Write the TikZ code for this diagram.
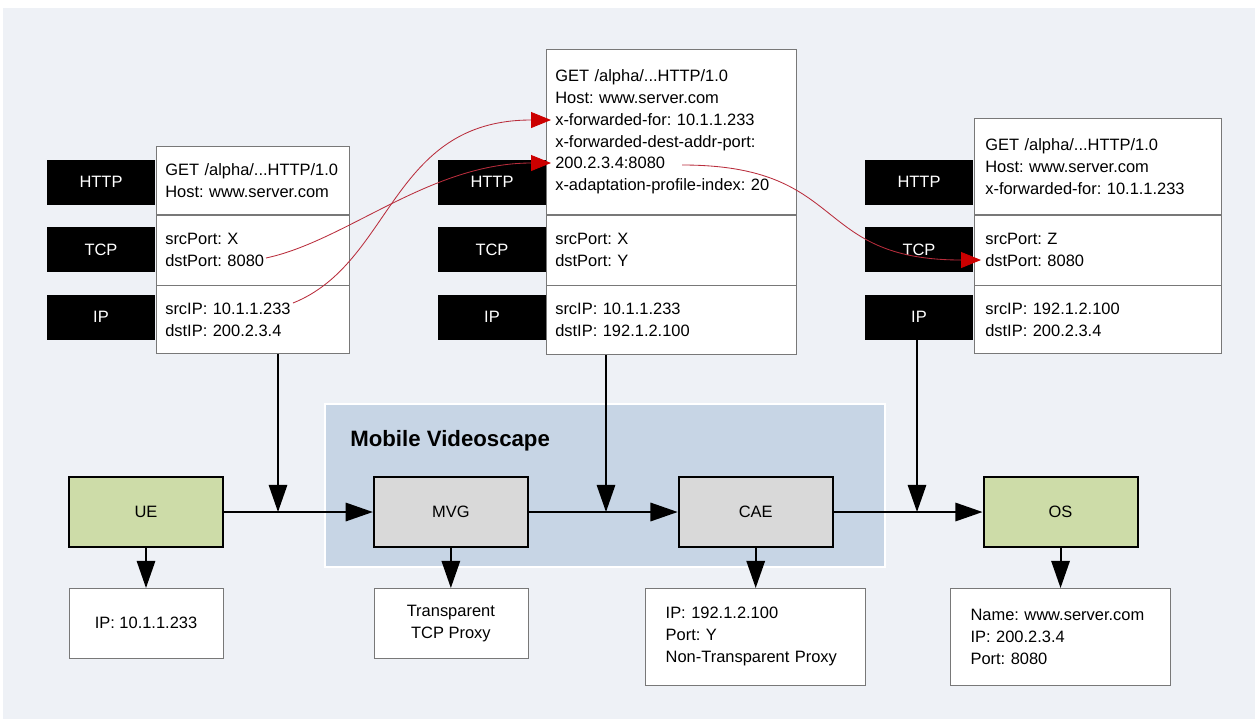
\documentclass[tikz,border=0pt]{standalone}
\usepackage{fontspec}
\setmainfont{Liberation Sans}
\usetikzlibrary{arrows.meta,positioning}
\definecolor{canvas}{RGB}{238,241,246}
\definecolor{scape}{RGB}{199,213,229}
\definecolor{sage}{RGB}{205,220,168}
\definecolor{stone}{RGB}{217,217,217}
\definecolor{rule}{RGB}{120,120,120}
\definecolor{wire}{RGB}{185,45,60}
\definecolor{scarlet}{RGB}{204,0,0}
\frenchspacing
\newcommand{\diafont}{\fontsize{11.7}{15.6}\selectfont}
\tikzset{
  >={Triangle[length=6.8mm,width=4.6mm]},
  layer/.style={fill=black,text=white,minimum width=27mm,minimum height=11.25mm,
    inner sep=0pt,font=\diafont},
  field/.style={draw=rule,fill=white,anchor=north west,align=left,
    inner xsep=2.25mm,inner ysep=0pt,font=\diafont},
  unit/.style={draw=black,line width=1.4pt,fill=#1,minimum width=38.5mm,
    minimum height=17.5mm,font=\diafont},
  unit/.default=stone,
  info/.style={draw=rule,fill=white,minimum width=38.5mm,minimum height=17.5mm,
    align=center,font=\diafont},
  flow/.style={->,line width=1.4pt},
  hop/.style={-{Triangle[length=5mm,width=4mm,color=scarlet]},draw=wire,line width=0.6pt},
}

\begin{document}
\begin{tikzpicture}[x=0.025cm,y=-0.025cm]
  \useasboundingbox (0,0) rectangle (1255,719);
  \fill[canvas] (3,8) rectangle (1255,719);
  % Mobile Videoscape area
  \node[fill=scape,draw=white,line width=1.5pt,minimum width=140mm,minimum height=40.75mm,
    anchor=north west] (mvs) at (324,403) {};
  \node[font=\fontsize{15.8}{19}\selectfont\bfseries,anchor=west,inner sep=0pt] (mvs-title)
    at ([xshift=6.5mm,yshift=-9.5mm]mvs.north west) {Mobile Videoscape};
  % protocol layers
  \foreach \s/\x in {l/101,m/492,r/919}{
    \node[layer] (\s-tag-http) at (\x,182) {HTTP};
    \node[layer] (\s-tag-tcp) at (\x,249.5) {TCP};
    \node[layer] (\s-tag-ip) at (\x,317) {IP};
  }
  % packet seen by the UE
  \node[field,text width=43.75mm,minimum height=17mm] (lhttp) at (156,146)
    {GET /alpha/...HTTP/1.0\\Host: www.server.com};
  \node[field,text width=43.75mm,minimum height=17.5mm,below=0pt of lhttp] (ltcp)
    {srcPort: X\\dstPort: 8080};
  \node[field,text width=43.75mm,minimum height=17mm,below=0pt of ltcp] (lip)
    {srcIP: 10.1.1.233\\dstIP: 200.2.3.4};
  % packet after the MVG
  \node[field,text width=58mm,minimum height=41.25mm] (mhttp) at (546,49)
    {GET /alpha/...HTTP/1.0\\Host: www.server.com\\x-forwarded-for: 10.1.1.233\\
     x-forwarded-dest-addr-port:\\200.2.3.4:8080\\x-adaptation-profile-index: 20};
  \node[field,text width=58mm,minimum height=17.5mm,below=0pt of mhttp] (mtcp)
    {srcPort: X\\dstPort: Y};
  \node[field,text width=58mm,minimum height=17.25mm,below=0pt of mtcp] (mip)
    {srcIP: 10.1.1.233\\dstIP: 192.1.2.100};
  % packet after the CAE
  \node[field,inner xsep=2.75mm,text width=56.25mm,minimum height=24mm] (rhttp) at (974,118)
    {GET /alpha/...HTTP/1.0\\Host: www.server.com\\x-forwarded-for: 10.1.1.233};
  \node[field,inner xsep=2.75mm,text width=56.25mm,minimum height=17.5mm,below=0pt of rhttp] (rtcp)
    {srcPort: Z\\dstPort: 8080};
  \node[field,inner xsep=2.75mm,text width=56.25mm,minimum height=17mm,below=0pt of rtcp] (rip)
    {srcIP: 192.1.2.100\\dstIP: 200.2.3.4};
  % network elements
  \node[unit=sage] (ue) at (146,512) {UE};
  \node[unit,right=3.72cm of ue] (mvg) {MVG};
  \node[unit,right=3.72cm of mvg] (cae) {CAE};
  \node[unit=sage,right=3.72cm of cae] (os) {OS};
  \node[info,below=1cm of ue] (ue-info) {IP: 10.1.1.233};
  \node[info,below=1cm of mvg] (mvg-info) {Transparent\\TCP Proxy};
  \node[info,below=1cm of cae,text width=45mm,inner xsep=5mm,minimum height=24.25mm,align=left]
    (cae-info) {IP: 192.1.2.100\\Port: Y\\Non-Transparent Proxy};
  \node[info,below=1cm of os,text width=45mm,inner xsep=5mm,minimum height=24.25mm,align=left]
    (os-info) {Name: www.server.com\\IP: 200.2.3.4\\Port: 8080};
  % main path
  \coordinate (j1) at (278,512);
  \coordinate (j2) at (606,512);
  \coordinate (j3) at (917,512);
  \draw[flow] (ue.east) -- (mvg.west);
  \draw[flow] (mvg.east) -- (cae.west);
  \draw[flow] (cae.east) -- (os.west);
  \draw[flow] (lip.south -| j1) -- (j1);
  \draw[flow] (mip.south -| j2) -- (j2);
  \draw[flow] (r-tag-ip.south -| j3) -- (j3);
  \foreach \n in {ue,mvg,cae,os}
    \draw[flow] (\n.south) -- (\n.south |- \n-info.north);
  % header rewriting
  \coordinate (srcip-end) at (293,303);
  \coordinate (dport-end) at (266,258);
  \coordinate (xff) at (551,120);
  \coordinate (xfd) at (551,163);
  \coordinate (xfd-end) at (682,165);
  \coordinate (r-dport) at (981,260);
  \draw[hop] (srcip-end) .. controls (393,263) and (390,120) .. (xff);
  \draw[hop] (dport-end) .. controls (346,241) and (430,163) .. (xfd);
  \draw[hop] (xfd-end) .. controls (850,165) and (810,260) .. (r-dport);
\end{tikzpicture}
\end{document}
